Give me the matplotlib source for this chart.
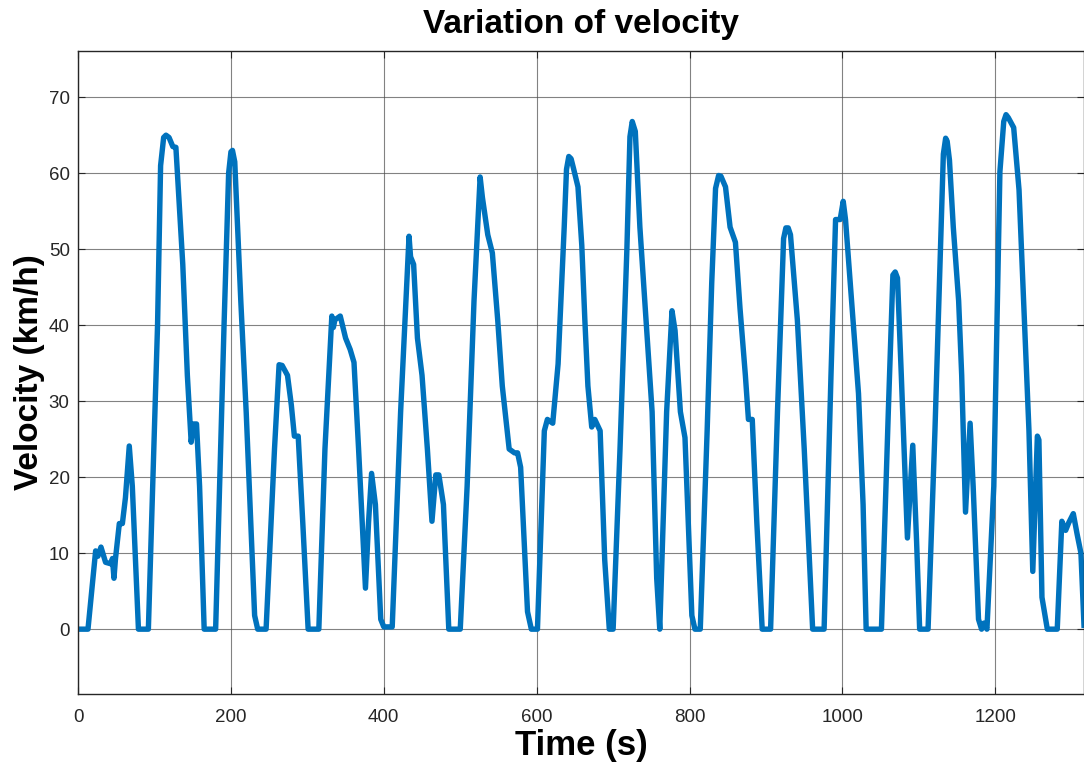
import numpy as np
from matplotlib import pyplot as plt

plt.rcParams['font.family'] = ['Liberation Sans', 'DejaVu Sans']

# Velocity trace (time in s, velocity in km/h)
time_s = [0, 13, 23, 26, 30, 36, 43, 45, 47, 49, 54, 58, 62, 67, 71, 79, 92,
          104, 108, 112, 115, 119, 124, 128, 130, 137, 143, 148, 151, 155, 159, 165, 180,
          191, 197, 200, 202, 205, 213, 220, 231, 235, 246,
          257, 263, 267, 274, 279, 283, 288, 294, 301, 315,
          323, 332, 334, 336, 343, 350, 356, 361, 367, 376, 380, 384, 389, 396, 400, 411,
          422, 433, 435, 439, 444, 450, 457, 463, 468, 472, 478, 485, 500,
          509, 518, 526, 529, 536, 542, 549, 555, 564, 571, 575, 579, 588, 593, 601,
          610, 614, 621, 628, 636, 639, 642, 645, 648, 654, 659, 663, 667, 672, 676, 683, 689, 695, 700,
          709, 718, 722, 725, 729, 735, 744, 751, 757, 761,
          770, 777, 781, 788, 794, 803, 807, 814,
          823, 829, 834, 838, 841, 847, 853, 860, 866, 873, 877, 882, 888, 895, 906,
          915, 923, 926, 929, 932, 941, 950, 961, 976,
          985, 991, 997, 1001, 1004, 1012, 1021, 1027, 1031, 1051,
          1060, 1066, 1069, 1072, 1077, 1085, 1092, 1097, 1101, 1112,
          1121, 1132, 1135, 1137, 1140, 1145, 1152, 1156, 1161, 1167, 1171, 1178, 1182, 1185, 1189,
          1198, 1206, 1211, 1214, 1217, 1224, 1231, 1237, 1244, 1249, 1255, 1257, 1261, 1268, 1281,
          1287, 1292, 1296, 1302, 1307, 1312, 1316]
velocity_kmh = [0, 0, 10.3, 9.6, 10.8, 8.8, 8.6, 9.3, 6.7, 9.3, 13.9, 13.9, 17.3, 24.1, 18.8, 0, 0,
                40, 61, 64.7, 65, 64.7, 63.5, 63.4, 60, 48, 33.4, 24.6, 27, 27, 18.8, 0, 0,
                40, 60, 62.8, 63, 61.5, 43, 28.5, 1.8, 0, 0,
                23.7, 34.8, 34.7, 33.4, 29.5, 25.4, 25.4, 14, 0, 0,
                23.7, 41.2, 39.7, 40.7, 41.2, 38.3, 36.8, 35.1, 23.7, 5.4, 14, 20.5, 16.4, 1.3, 0.3, 0.3,
                28.6, 51.7, 49, 48, 38.3, 33.4, 23.7, 14.2, 20.3, 20.3, 16.4, 0, 0,
                18.8, 43.2, 59.5, 56.8, 51.9, 49.5, 40.7, 32, 23.7, 23.2, 23.2, 21.3, 2.3, 0, 0,
                26.1, 27.6, 27.1, 34.9, 52.9, 60.5, 62.2, 61.9, 60.7, 58.2, 50.5, 40.7, 32, 26.6, 27.6, 26.1, 9.1, 0, 0,
                23.7, 50, 64.8, 66.8, 65.5, 52.9, 39.3, 28.6, 6.7, 0,
                28.6, 41.9, 39.3, 28.6, 25.2, 1.8, 0, 0,
                26.1, 45.6, 58, 59.7, 59.6, 58.2, 52.9, 50.9, 42.2, 33.4, 27.6, 27.6, 14, 0, 0,
                28.6, 51.4, 52.8, 52.8, 51.9, 40.7, 23.7, 0, 0,
                33.4, 53.9, 53.9, 56.3, 53.9, 43.2, 31, 16.4, 0, 0,
                28.6, 46.6, 47, 46.2, 33.4, 12, 24.2, 11.5, 0, 0,
                26.1, 62.5, 64.6, 64.2, 61.7, 52.9, 43.2, 33.4, 15.4, 27.1, 18.8, 1.3, 0, 0.8, 0,
                18.8, 60.2, 66.8, 67.7, 67.3, 66, 57.8, 43.2, 26.1, 7.6, 25.4, 24.9, 4.2, 0, 0,
                14.2, 13, 14, 15.2, 12.5, 10, 0.5]

fig = plt.figure(figsize=(10.84, 7.70), dpi=100)
ax = fig.add_axes([0.072, 0.099, 0.928, 0.835])

ax.plot(time_s, velocity_kmh, color='#0072BD', linewidth=3.9, solid_joinstyle='round')

ax.set_xlim(0, 1316)
ax.set_ylim(-8.5, 76.1)
ax.set_xticks(np.arange(0, 1201, 200))
ax.set_yticks(np.arange(0, 71, 10))
ax.grid(True, color='#4d4d4d', linewidth=0.8, alpha=0.7)
ax.set_axisbelow(True)

ax.tick_params(direction='in', top=True, right=True, labelsize=13.5, colors='#262626',
               length=5, pad=6)
ax.tick_params(axis='x', pad=11)
for s in ax.spines.values():
    s.set_color('#262626')
    s.set_linewidth(1.0)

ax.set_title('Variation of velocity', fontsize=24, fontweight='bold', pad=13)
ax.set_xlabel('Time (s)', fontsize=25, fontweight='bold', labelpad=2)
ax.set_ylabel('Velocity (km/h)', fontsize=24, fontweight='bold', labelpad=3)

plt.savefig('out.png', dpi=100)
